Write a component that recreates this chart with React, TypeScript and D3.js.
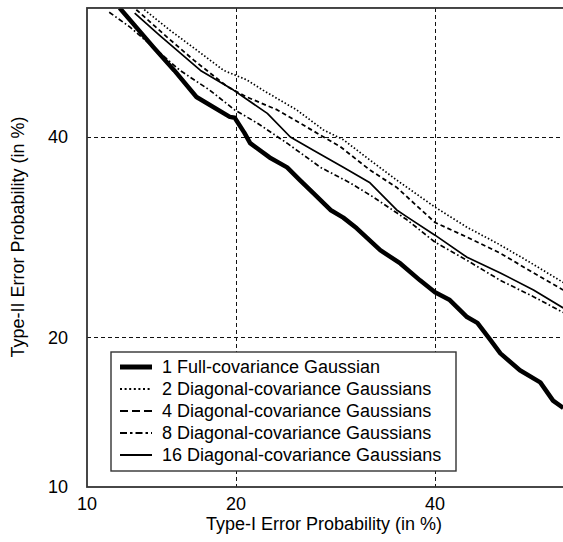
import React from "react";
import * as d3 from "d3";

// ---- data (values in %) ----
const xTicks = [10, 20, 40];
const yTicks = [10, 20, 40];

const seriesNames = [
  "1 Full-covariance Gaussian",
  "2 Diagonal-covariance Gaussians",
  "4 Diagonal-covariance Gaussians",
  "8 Diagonal-covariance Gaussians",
  "16 Diagonal-covariance Gaussians",
];

const full1: [number, number][] = [
  [11.8, 55.0], [13.9, 50.4], [15.3, 47.7], [16.9, 44.6], [19.5, 42.3], [19.9, 42.2],
  [20.7, 40.5], [21.2, 39.3], [22.9, 37.7], [24.5, 36.6], [25.7, 35.2], [27.0, 33.8],
  [28.7, 32.0], [30.0, 31.2], [31.4, 30.1], [33.9, 27.9], [36.1, 26.6], [38.3, 25.0],
  [40.0, 23.9], [41.7, 23.2], [43.7, 21.7], [44.9, 21.2], [46.4, 19.8], [47.6, 18.7],
  [49.9, 17.4], [52.3, 16.5], [53.8, 15.2], [55.0, 14.7],
];
const diag2: [number, number][] = [
  [13.3, 54.8], [15.0, 52.4], [16.9, 50.1], [19.0, 47.7], [20.9, 46.6], [22.3, 45.4],
  [25.4, 43.1], [28.0, 40.8], [30.0, 39.7], [32.8, 37.4], [35.7, 35.2], [40.0, 32.3],
  [43.7, 30.2], [47.2, 28.6], [50.7, 26.9], [55.0, 24.8],
];
const diag4: [number, number][] = [
  [12.8, 54.8], [14.8, 51.6], [16.7, 48.9], [19.3, 45.8], [20.9, 44.6], [23.6, 43.1],
  [26.4, 41.1], [29.7, 38.9], [32.8, 36.3], [35.7, 34.4], [40.0, 30.7], [43.7, 29.2],
  [47.6, 27.6], [51.5, 25.7], [55.0, 24.1],
];
const diag8: [number, number][] = [
  [11.2, 54.5], [12.4, 52.8], [13.9, 50.4], [15.7, 47.7], [17.9, 45.4], [19.9, 43.1],
  [21.8, 41.6], [24.5, 39.3], [27.7, 36.6], [30.7, 34.9], [33.1, 33.4], [35.7, 31.7],
  [36.8, 31.0], [40.0, 28.7], [43.7, 26.9], [47.6, 25.0], [51.5, 23.5], [55.0, 22.1],
];
const diag16: [number, number][] = [
  [12.7, 54.4], [14.3, 51.8], [17.2, 47.7], [19.8, 45.4], [22.7, 42.7], [24.8, 40.0],
  [27.0, 38.5], [30.0, 36.6], [32.8, 34.9], [35.7, 32.0], [36.8, 31.3], [40.0, 29.4],
  [43.7, 27.2], [47.6, 25.7], [51.5, 24.1], [55.0, 22.5],
];

const allSeries = [full1, diag2, diag4, diag8, diag16];

// ---- probit (inverse normal CDF, Acklam) ----
function probit(p: number): number {
  const a = [-3.969683028665376e1, 2.209460984245205e2, -2.759285104469687e2, 1.38357751867269e2, -3.066479806614716e1, 2.506628277459239];
  const b = [-5.447609879822406e1, 1.615858368580409e2, -1.556989798598866e2, 6.680131188771972e1, -1.328068155288572e1];
  const c = [-7.784894002430293e-3, -3.223964580411365e-1, -2.400758277161838, -2.549732539343734, 4.374664141464968, 2.938163982698783];
  const dd = [7.784695709041462e-3, 3.224671290700398e-1, 2.445134137142996, 3.754408661907416];
  const pl = 0.02425;
  let q, r;
  if (p < pl) {
    q = Math.sqrt(-2 * Math.log(p));
    return (((((c[0] * q + c[1]) * q + c[2]) * q + c[3]) * q + c[4]) * q + c[5]) / ((((dd[0] * q + dd[1]) * q + dd[2]) * q + dd[3]) * q + 1);
  } else if (p <= 1 - pl) {
    q = p - 0.5; r = q * q;
    return (((((a[0] * r + a[1]) * r + a[2]) * r + a[3]) * r + a[4]) * r + a[5]) * q / (((((b[0] * r + b[1]) * r + b[2]) * r + b[3]) * r + b[4]) * r + 1);
  } else {
    q = Math.sqrt(-2 * Math.log(1 - p));
    return -(((((c[0] * q + c[1]) * q + c[2]) * q + c[3]) * q + c[4]) * q + c[5]) / ((((dd[0] * q + dd[1]) * q + dd[2]) * q + dd[3]) * q + 1);
  }
}

const W = 563, H = 542;
const left = 87, bottom = 487;
const xLin = d3.scaleLinear().domain([probit(0.1), probit(0.4)]).range([87, 435]);
const yLin = d3.scaleLinear().domain([probit(0.1), probit(0.4)]).range([487, 137]);
const x = (v: number) => xLin(probit(v / 100));
const y = (v: number) => yLin(probit(v / 100));
const right = x(55.6);
const top = y(55);

const styles = [
  { w: 4.5, dash: "none", legDash: "none", legW: 5 },
  { w: 1.7, dash: "1.5,2.1", legDash: "2,2.6", legW: 1.8 },
  { w: 1.8, dash: "4.5,3", legDash: "8,4", legW: 2 },
  { w: 1.7, dash: "5,2.5,1.6,2.5", legDash: "7,3,2.5,3", legW: 2 },
  { w: 1.7, dash: "none", legDash: "none", legW: 2 },
];

const FONT = "'Liberation Sans', Arial, sans-serif";
const FS = 18;

export default function App() {
  const line = d3.line<[number, number]>().x((d) => x(d[0])).y((d) => y(d[1]));
  const lx = 111, ly = 352, lw = 345, lh = 119;
  return (
    <svg width={W} height={H} style={{ position: "fixed", left: 0, top: 0, background: "#fff" }} fontFamily={FONT}>
      <rect x={0} y={0} width={W} height={H} fill="#fff" />
      <defs>
        <clipPath id="plot">
          <rect x={left} y={top} width={right - left} height={bottom - top} />
        </clipPath>
      </defs>
      {/* grid */}
      {xTicks.slice(1).map((t) => (
        <line key={"gx" + t} x1={Math.round(x(t)) + 0.5} x2={Math.round(x(t)) + 0.5} y1={top} y2={bottom} stroke="#111" strokeWidth={1} strokeDasharray="4,3" />
      ))}
      {yTicks.slice(1).map((t) => (
        <line key={"gy" + t} x1={left} x2={right} y1={Math.round(y(t)) + 0.5} y2={Math.round(y(t)) + 0.5} stroke="#111" strokeWidth={1} strokeDasharray="4,3" />
      ))}
      {/* curves */}
      <g clipPath="url(#plot)">
        {allSeries.map((s, i) => (
          <path key={i} d={line(s) || ""} fill="none" stroke="#000" strokeWidth={styles[i].w}
            strokeDasharray={styles[i].dash} strokeLinejoin="round" />
        ))}
      </g>
      {/* frame */}
      <rect x={left} y={top} width={right - left} height={bottom - top} fill="none" stroke="#333" strokeWidth={1.8} />
      {/* tick labels */}
      {xTicks.map((t) => (
        <text key={"xt" + t} x={x(t)} y={504} dy="0.35em" textAnchor="middle" fontSize={FS} fill="#000">{t}</text>
      ))}
      {yTicks.map((t) => (
        <text key={"yt" + t} x={68} y={y(t)} dy="0.35em" textAnchor="end" fontSize={FS} fill="#000">{t}</text>
      ))}
      {/* axis titles */}
      <text x={324} y={524} dy="0.35em" textAnchor="middle" fontSize={FS} fill="#000">Type-I Error Probability (in %)</text>
      <text transform={`translate(18,237) rotate(-90)`} dy="0.35em" textAnchor="middle" fontSize={FS} fill="#000">Type-II Error Probability (in %)</text>
      {/* legend */}
      <rect x={lx} y={ly} width={lw} height={lh} fill="#fff" stroke="#333" strokeWidth={1.4} />
      {seriesNames.map((n, i) => {
        const cy = 367 + i * 22;
        return (
          <g key={n}>
            <line x1={120} x2={152} y1={cy} y2={cy} stroke="#000" strokeWidth={styles[i].legW} strokeDasharray={styles[i].legDash} />
            <text x={162} y={cy} dy="0.35em" fontSize={FS} fill="#000">{n}</text>
          </g>
        );
      })}
    </svg>
  );
}
